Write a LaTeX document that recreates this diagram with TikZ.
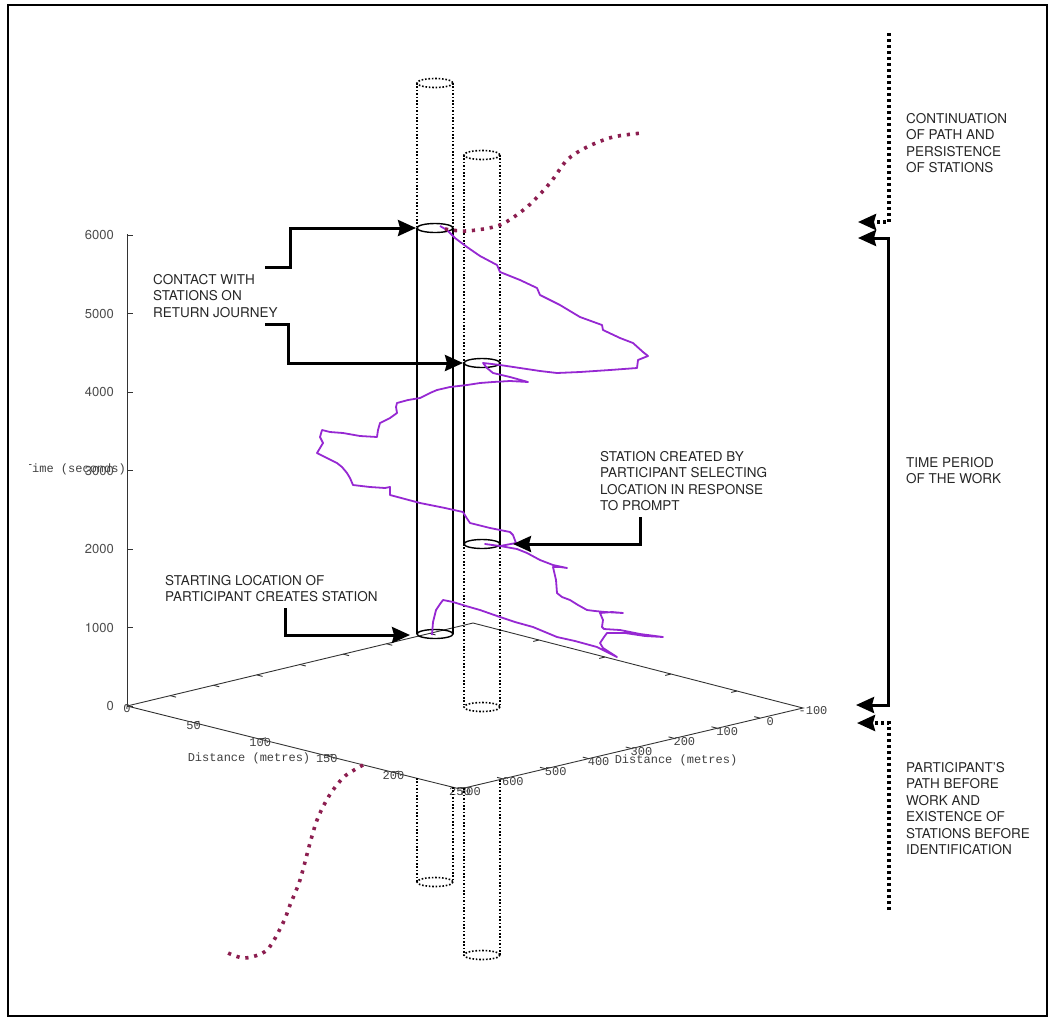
\documentclass[tikz,border=0pt]{standalone}
\usepackage{fontspec}
\setmainfont{TeX Gyre Heros}
\newfontfamily\gpmono{Liberation Mono}
\usetikzlibrary{arrows.meta,calc}

\definecolor{walkviolet}{RGB}{150,40,210}
\definecolor{extramaroon}{RGB}{140,30,80}

\begin{document}
\begin{tikzpicture}[x=1pt,y=-1pt,>={Stealth[length=18pt,width=16pt,inset=2pt]},
  note/.style={anchor=north west,inner sep=0pt,align=left,text=black!85,font=\fontsize{13.5}{16.5}\selectfont},
  gplabel/.style={inner sep=0pt,text=black!75,font=\gpmono\fontsize{12}{12}\selectfont},
  ticklabel/.style={anchor=east,inner sep=0pt,text=black!70,font=\fontsize{13}{13}\selectfont},
  axisline/.style={line width=0.9pt,black!80},
  conn/.style={line width=3pt},
  dotconn/.style={line width=3.4pt,dash pattern=on 3pt off 3pt},
  cylsolid/.style={line width=1.4pt},
  cyldot/.style={line width=1.6pt,dash pattern=on 1.6pt off 1.8pt},
  walk/.style={line width=1.8pt,walkviolet,line join=round},
  extrap/.style={line width=3.6pt,extramaroon,dash pattern=on 3.2pt off 5.8pt}]
\useasboundingbox (0,0) rectangle (1051,1018);
\draw[line width=2pt] (8,5) rectangle (1047,1016);

% time axis and base plane
\coordinate (o) at (127,706);
\coordinate (tz) at (127,234);
\coordinate (bk) at (473,623);
\coordinate (fr) at (460,789);
\coordinate (rt) at (803,708);
\draw[axisline] (o) -- (tz);
\draw[axisline] (o) -- (bk) -- (rt) -- (fr) -- cycle;
\foreach \t in {0,...,6}{
  \pgfmathtruncatemacro\lab{1000*\t}
  \draw[axisline] (127,{706-78.5*\t}) -- ++(6,0);
  \node[ticklabel] at (114,{706-78.5*\t}) {\lab};
}
\begin{scope}
  \clip (29,455) rectangle (140,485);
  \node[gplabel,anchor=east] (tlabel) at (126,469) {Time (seconds)};
\end{scope}
\foreach \i in {1,...,4} \draw[axisline] ($(o)!\i/5!(fr)$) -- ++(5.8,-1.4);
\foreach \i in {1,...,4} \draw[axisline] ($(bk)!\i/5!(rt)$) -- ++(-5.8,1.4);
\foreach \i in {1,...,7} \draw[axisline] ($(rt)!\i/8!(fr)$) -- ++(-5.8,-1.5);
\foreach \i in {1,...,7} \draw[axisline] ($(o)!\i/8!(bk)$) -- ++(5.8,1.5);
\foreach \i/\lab in {0/0,1/50,2/100,3/150,4/200,5/250}
  \node[gplabel] at ($(o)!\i/5!(fr)+(0,3)$) {\lab};
\foreach \i/\lab in {0/-100,1/0,2/100,3/200,4/300,5/400,6/500,7/600,8/700}
  \node[gplabel] at ($(rt)!\i/8!(fr)+(10,3)$) {\lab};
\node[gplabel] (dist_l) at (249,758) {Distance (metres)};
\node[gplabel] (dist_r) at (676,760) {Distance (metres)};

% station A
\draw[cyldot] (417,83) -- (417,258) (453,83) -- (453,258);
\draw[cyldot] (435,83) ellipse [x radius=18,y radius=4.5];
\draw[cylsolid] (417,228) -- (417,634) (453,228) -- (453,634);
\draw[cylsolid] (435,228) ellipse [x radius=18,y radius=4.5];
\draw[cylsolid] (435,634) ellipse [x radius=18,y radius=4.5];
\draw[cyldot] (417,778) -- (417,882) (453,787) -- (453,882);
\draw[cyldot] (435,882) ellipse [x radius=18,y radius=4.5];
% station B
\draw[cyldot] (464,155) -- (464,363) (500,155) -- (500,363);
\draw[cyldot] (482,155) ellipse [x radius=18,y radius=4.5];
\draw[cylsolid] (464,363) -- (464,544) (500,363) -- (500,544);
\draw[cylsolid] (482,363) ellipse [x radius=18,y radius=4.5];
\draw[cylsolid] (482,544) ellipse [x radius=18,y radius=4.5];
\draw[cyldot] (464,544) -- (464,707) (500,544) -- (500,707);
\draw[cyldot] (482,707) ellipse [x radius=18,y radius=4.5];
\draw[cyldot] (464,788) -- (464,955) (500,780) -- (500,955);
\draw[cyldot] (482,955) ellipse [x radius=18,y radius=4.5];

% participant path
\draw[walk] plot coordinates {(432,635) (433,622) (436,610) (440,604) (443,600)
  (453,602) (466,606) (480,610) (500,617) (515,622) (533,627) (545,632) (557,637)
  (575,641) (597,647) (607,652) (617,657) (603,648) (600,643) (604,637) (607,633)
  (625,633) (645,636) (663,637) (640,634) (620,630) (604,629) (602,627) (603,620)
  (600,613) (612,612) (623,613) (605,612) (595,611) (587,610) (578,605) (570,600)
  (562,597) (557,593) (556,580) (553,567) (560,567) (567,568) (553,565) (540,560)
  (527,553) (517,549) (500,546) (485,544) (500,546) (516,543) (513,535) (510,532)
  (490,528) (470,523) (466,517) (463,512) (445,508) (420,503) (405,499) (390,495)
  (390,487) (385,488) (370,487) (353,485) (350,478) (347,473) (342,467) (337,463)
  (325,457) (317,453) (320,448) (323,443) (320,437) (322,430) (330,432) (343,433)
  (360,436) (377,437) (378,430) (380,423) (390,418) (397,413) (396,407) (397,403)
  (408,400) (420,398) (430,393) (437,390) (450,387) (467,385) (480,383) (493,382)
  (510,381) (528,382) (510,377) (493,373) (487,368) (483,363) (492,364) (500,365)
  (520,368) (540,371) (557,373) (580,372) (610,370) (637,368) (638,360) (648,356)
  (643,352) (633,343) (620,338) (603,330) (602,325) (580,317) (560,305) (540,295)
  (537,288) (520,280) (500,272) (497,265) (480,256) (467,247) (455,238) (447,230)
  (440,226)};
\draw[extrap] plot[smooth] coordinates {(445,229) (467,231) (500,225) (527,207)
  (550,183) (567,160) (587,147) (613,137) (642,133)};
\draw[extrap] plot[smooth] coordinates {(363,765) (345,776) (333,790) (325,803)
  (317,820) (310,843) (300,880) (290,905) (283,923) (267,950) (245,958) (228,953)};

% notes and pointers
\node[note] (contact) at (153,274) {CONTACT WITH\\STATIONS ON\\RETURN JOURNEY};
\node[note] (created) at (600,451) {STATION CREATED BY\\PARTICIPANT SELECTING\\LOCATION IN RESPONSE\\TO PROMPT};
\node[note] (starting) at (165,575) {STARTING LOCATION OF\\PARTICIPANT CREATES STATION};
\node[note] (continuation) at (906,113) {CONTINUATION\\OF PATH AND\\PERSISTENCE\\OF STATIONS};
\node[note] (period) at (906,457) {TIME PERIOD\\OF THE WORK};
\node[note] (before) at (906,762) {PARTICIPANT’S\\PATH BEFORE\\WORK AND\\EXISTENCE OF\\STATIONS BEFORE\\IDENTIFICATION};

\coordinate (stA_top) at (416,228);
\coordinate (stB_top) at (463,363);
\coordinate (stB_bot) at (513,544);
\coordinate (stA_bot) at (410,635);
\coordinate (contact_up) at (265,267);
\coordinate (contact_dn) at (265,324);
\coordinate (created_src) at (640,517);
\coordinate (start_src) at (285,608);
\draw[conn,->] (contact_up) -- ++(25,0) |- (stA_top);
\draw[conn,->] (contact_dn) -- ++(23,0) |- (stB_top);
\draw[conn,->] (created_src) |- (stB_bot);
\draw[conn,->] (start_src) |- (stA_bot);

\coordinate (work_top) at (858,238);
\coordinate (work_mid) at (888,471);
\coordinate (work_bot) at (856,705);
\draw[conn,<->] (work_top) -| (work_mid) |- (work_bot);
\coordinate (cont_end) at (889,33);
\coordinate (cont_tip) at (858,222);
\draw[dotconn,->] (cont_end) |- (cont_tip);
\coordinate (before_end) at (889,910);
\coordinate (before_tip) at (857,723);
\draw[dotconn,->] (before_end) |- (before_tip);
\end{tikzpicture}
\end{document}
